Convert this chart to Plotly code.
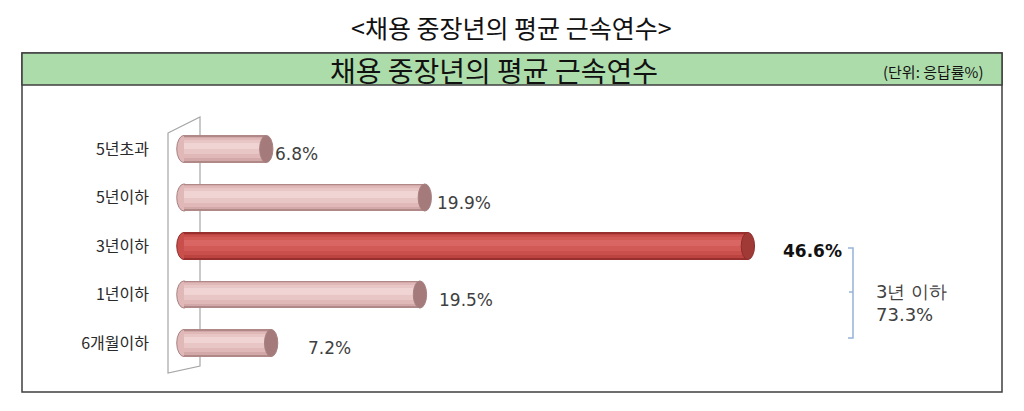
"""채용 중장년의 평균 근속연수 - horizontal cylinder-style bar chart."""

import plotly.graph_objects as go

# the page body adds an 8px margin, so the figure is laid out 8px in
OFF = 8
W, H = 1024 - OFF, 411 - OFF

# data (top to bottom as shown in the chart)
CATEGORIES = ["5년초과", "5년이하", "3년이하", "1년이하", "6개월이하"]
VALUES = [6.8, 19.9, 46.6, 19.5, 7.2]
HIGHLIGHT = "3년이하"
BRACKET_GROUP = ["3년이하", "1년이하", "6개월이하"]
BRACKET_LABEL = "3년 이하"

TITLE = "<채용 중장년의 평균 근속연수>"
HEADER = "채용 중장년의 평균 근속연수"
UNIT = "(단위: 응답률%)"

# per-label horizontal nudges (px), matching the hand-placed labels
LABEL_SHIFT = [0, 4, 26, 10, 28]

KR_FONT = "Noto Sans CJK KR"
NUM_FONT = "DejaVu Sans"
TEXT = "#404040"

# shading bands of the cylinders: (width, offset) from outer to inner
BANDS = [(0.56, -0.28), (0.50, -0.245), (0.42, -0.19), (0.30, -0.11), (0.14, -0.01)]
PINK = dict(bands=["#b08888", "#d2a8a8", "#e0b8b8", "#e9c6c6", "#f0d4d4"],
            edge="#a88080", cap="#a47a7a")
RED = dict(bands=["#962f2d", "#bb4441", "#c94f4c", "#d25a56", "#d96662"],
           edge="#8e2c2a", cap="#a03a37")


def px(x, y):
    """page pixel position -> paper coordinates"""
    return (x - OFF) / W, 1 - (y - OFF) / H


def ppath(points):
    parts = []
    for i, (x, y) in enumerate(points):
        xp, yp = px(x, y)
        parts.append(("M" if i == 0 else "L") + f"{xp:.5f},{yp:.5f}")
    return " ".join(parts)


axis_order = CATEGORIES[::-1]
idx = {c: axis_order.index(c) for c in CATEGORIES}
pal = [RED if c == HIGHLIGHT else PINK for c in CATEGORIES]
BAR_W = BANDS[0][0]

fig = go.Figure()

for k, (width, offset) in enumerate(BANDS):
    fig.add_trace(go.Bar(
        y=CATEGORIES, x=VALUES, orientation="h",
        width=width, offset=offset,
        marker=dict(color=[p["bands"][k] for p in pal], line=dict(width=0)),
        hoverinfo="skip", showlegend=False,
    ))

shapes = []

# outer frame and green header band
x0, y0 = px(22, 53)
x1, y1 = px(1002, 392)
shapes.append(dict(type="rect", xref="paper", yref="paper", x0=x0, y0=y1, x1=x1, y1=y0,
                   line=dict(color="#3f3f3f", width=1.5), fillcolor="white", layer="below"))
hx0, hy0 = px(22, 53)
hx1, hy1 = px(1002, 85)
shapes.append(dict(type="rect", xref="paper", yref="paper", x0=hx0, y0=hy1, x1=hx1, y1=hy0,
                   line=dict(color="#3f3f3f", width=1.5), fillcolor="#addcab", layer="below"))

# 3D back wall of the value axis
shapes.append(dict(type="path", xref="paper", yref="paper", layer="below",
                   path=ppath([(168, 133), (200, 117), (200, 366), (168, 373)]) + " Z",
                   line=dict(color="#a6a6a6", width=1.2)))

# rounded left ends and end caps of the cylinders
for c, v, p in zip(CATEGORIES, VALUES, pal):
    i = idx[c]
    shapes.append(dict(type="circle", xref="x", yref="y", layer="below",
                       x0=-0.6, x1=0.6, y0=i - BAR_W / 2, y1=i + BAR_W / 2,
                       fillcolor=p["bands"][2], line=dict(color=p["edge"], width=1)))
    shapes.append(dict(type="circle", xref="x", yref="y", layer="above",
                       x0=v - 0.55, x1=v + 0.55, y0=i - BAR_W / 2, y1=i + BAR_W / 2,
                       fillcolor=p["cap"], line=dict(color=p["edge"], width=1)))

# bracket for the "3 years or less" group
bc = "#95b3d7"
shapes.append(dict(type="path", xref="paper", yref="paper",
                   path=ppath([(848, 248), (853, 248), (853, 338), (848, 338)]),
                   line=dict(color=bc, width=1.5)))
shapes.append(dict(type="path", xref="paper", yref="paper",
                   path=ppath([(853, 292), (849, 292)]),
                   line=dict(color=bc, width=1.5)))

annotations = []
tx, ty = px(511, 8)
annotations.append(dict(xref="paper", yref="paper", x=tx, y=ty, xanchor="center", yanchor="top",
                        text=TITLE, showarrow=False, borderpad=0,
                        font=dict(family=KR_FONT, size=25, color="#111111")))
hx, hy = px(494, 70)
annotations.append(dict(xref="paper", yref="paper", x=hx, y=hy, xanchor="center", yanchor="middle",
                        text=HEADER, showarrow=False,
                        font=dict(family=KR_FONT, size=28, color="#111111")))
ux, uy = px(986, 71)
annotations.append(dict(xref="paper", yref="paper", x=ux, y=uy, xanchor="right", yanchor="middle",
                        text=UNIT, showarrow=False,
                        font=dict(family=KR_FONT, size=15, color="#111111")))

for c, v, s in zip(CATEGORIES, VALUES, LABEL_SHIFT):
    bold = c == HIGHLIGHT
    annotations.append(dict(
        xref="x", yref="y", x=v + 0.55, y=idx[c], xanchor="left", yanchor="middle",
        xshift=s, yshift=-5,
        text=f"<b>{v:.1f}%</b>" if bold else f"{v:.1f}%", showarrow=False,
        font=dict(family=NUM_FONT, size=17, color="#111111" if bold else TEXT),
    ))

group_total = sum(v for c, v in zip(CATEGORIES, VALUES) if c in BRACKET_GROUP)
gx, gy = px(874, 303)
annotations.append(dict(xref="paper", yref="paper", x=gx, y=gy, xanchor="left", yanchor="middle",
                        text=f"{BRACKET_LABEL}<br>{group_total:.1f}%", showarrow=False, align="left",
                        font=dict(family=NUM_FONT, size=18, color=TEXT)))

# axis placement: zero at x=184px, 12.1 px per percentage point; rows 48.5px apart
zero_px, unit_px = 184, 12.1
dom_left = 150
row_px, bottom_row_y = 48.5, 343
fig.update_layout(
    width=W, height=H,
    margin=dict(l=0, r=0, t=0, b=0),
    paper_bgcolor="white", plot_bgcolor="rgba(0,0,0,0)",
    barmode="overlay", bargap=0,
    shapes=shapes, annotations=annotations,
    xaxis=dict(domain=[(dom_left - OFF) / W, 1],
               range=[(dom_left - zero_px) / unit_px, (1024 - zero_px) / unit_px],
               visible=False, fixedrange=True),
    yaxis=dict(type="category", categoryorder="array", categoryarray=axis_order,
               range=[(bottom_row_y - 411) / row_px, (bottom_row_y - OFF) / row_px],
               showgrid=False, showline=False, zeroline=False, ticks="",
               tickfont=dict(family=KR_FONT, size=16, color="#2a2a2a"), fixedrange=True),
)

fig.write_html("out.html")
